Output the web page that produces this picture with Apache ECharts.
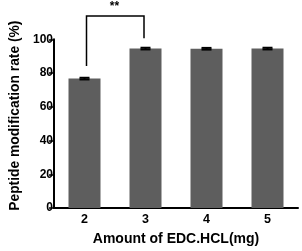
<!DOCTYPE html>
<html>
<head>
<meta charset="utf-8">
<script src="https://cdn.jsdelivr.net/npm/echarts@6/dist/echarts.min.js"></script>
<style>
html,body{margin:0;padding:0;background:#fff;}
#chart{width:302px;height:251px;}
</style>
</head>
<body>
<div id="chart"></div>
<script>
// ---- data ----
const categories = ['2', '3', '4', '5'];
const values = [76.7, 94.5, 94.4, 94.5];
const errors = [0.5, 0.5, 0.5, 0.5];
const yMin = 0, yMax = 100, yInterval = 20;
// significance bracket: [fromIndex, toIndex, topValue, leftFootValue, rightFootValue]
const bracketPairs = [[0, 1, 113.8, 84.2, 100.6]];
const bracketLabels = ['**'];
const xTitle = 'Amount of EDC.HCL(mg)';
const yTitle = 'Peptide modification rate (%)';

const FONT = "'Liberation Sans', Arial, sans-serif";
const chart = echarts.init(document.getElementById('chart'), null, {renderer: 'canvas'});

const errData = values.map((v, i) => [i, v - errors[i], v + errors[i]]);

chart.setOption({
  animation: false,
  backgroundColor: '#ffffff',
  grid: {left: 46, right: 4, top: 39.3, bottom: 42.7, containLabel: false},
  xAxis: {
    type: 'category',
    data: categories,
    axisLine: {lineStyle: {color: '#000', width: 2}},
    axisTick: {alignWithLabel: true, length: 4, lineStyle: {color: '#000', width: 1.5}},
    axisLabel: {color: '#000', fontFamily: FONT, fontWeight: 'bold', fontSize: 12.5, margin: 5},
    name: xTitle,
    nameLocation: 'middle',
    nameGap: 24,
    nameTextStyle: {color: '#000', fontFamily: FONT, fontWeight: 'bold', fontSize: 14}
  },
  yAxis: {
    type: 'value',
    min: yMin, max: yMax, interval: yInterval,
    splitLine: {show: false},
    axisLine: {show: true, lineStyle: {color: '#000', width: 2}},
    axisTick: {show: true, length: 5, lineStyle: {color: '#000', width: 1.5}},
    axisLabel: {color: '#000', fontFamily: FONT, fontWeight: 'bold', fontSize: 12, margin: 1},
    name: yTitle,
    nameLocation: 'middle',
    nameGap: 32,
    nameTextStyle: {color: '#000', fontFamily: FONT, fontWeight: 'bold', fontSize: 13.8, padding: [0, 0, 0, 16]}
  },
  series: [
    {
      type: 'bar',
      data: values,
      barWidth: 32,
      itemStyle: {color: '#5e5e5e'},
      silent: true
    },
    {
      type: 'custom',
      data: errData,
      silent: true,
      z: 5,
      renderItem: function (params, api) {
        const lo = api.coord([api.value(0), api.value(1)]);
        const hi = api.coord([api.value(0), api.value(2)]);
        const hw = 5;
        const st = {stroke: '#000', lineWidth: 2};
        return {
          type: 'group',
          children: [
            {type: 'line', shape: {x1: hi[0], y1: hi[1], x2: lo[0], y2: lo[1]}, style: st},
            {type: 'line', shape: {x1: hi[0] - hw, y1: hi[1], x2: hi[0] + hw, y2: hi[1]}, style: st},
            {type: 'line', shape: {x1: lo[0] - hw, y1: lo[1], x2: lo[0] + hw, y2: lo[1]}, style: st}
          ]
        };
      }
    },
    {
      type: 'custom',
      data: bracketPairs,
      silent: true,
      clip: false,
      z: 6,
      renderItem: function (params, api) {
        const a0 = api.value(0), a1 = api.value(1);
        const top = api.value(2), lf = api.value(3), rf = api.value(4);
        const tl = api.coord([a0, top]);
        const tr = api.coord([a1, top]);
        const bl = api.coord([a0, lf]);
        const br = api.coord([a1, rf]);
        const st = {stroke: '#000', lineWidth: 1.5, fill: null};
        return {
          type: 'group',
          children: [
            {type: 'polyline', shape: {points: [[bl[0] + 2, bl[1]], [tl[0] + 2, tl[1]], [tr[0] - 1.5, tr[1]], [br[0] - 1.5, br[1]]]}, style: st},
            {type: 'text', style: {
              text: bracketLabels[params.dataIndex],
              x: (tl[0] + tr[0]) / 2 - 0.5, y: tl[1] - 15.5,
              align: 'center', verticalAlign: 'top',
              font: 'bold 12px ' + FONT, fill: '#000'
            }}
          ]
        };
      }
    }
  ]
});
</script>
</body>
</html>
